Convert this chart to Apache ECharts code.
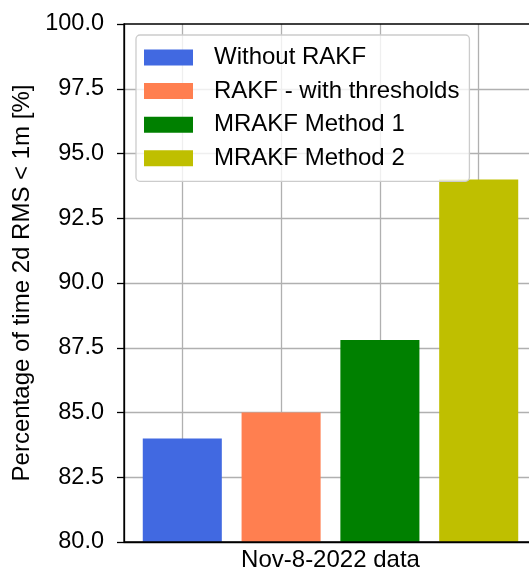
<!DOCTYPE html>
<html>
<head>
<meta charset="utf-8">
<script src="https://cdn.jsdelivr.net/npm/echarts@6/dist/echarts.min.js"></script>
<style>
html,body{margin:0;padding:0;background:#fff;}
#chart{width:529px;height:571px;}
</style>
</head>
<body>
<div id="chart"></div>
<script>
// ---- data ----
const seriesNames = ['Without RAKF', 'RAKF - with thresholds', 'MRAKF Method 1', 'MRAKF Method 2'];
const seriesValues = [84.0, 85.0, 87.8, 94.0];
const barPositions = [0, 1, 2, 3];
const groupLabel = 'Nov-8-2022 data';
const yAxisTitle = 'Percentage of time 2d RMS < 1m [%]';
const yMin = 80, yMax = 100, yStep = 2.5;
const xMin = -0.59, xMax = 3.59;
// ---- styles ----
const seriesColors = ['#4169E1', '#FF7F50', '#008000', '#BFBF00'];

const FONT = "'Liberation Sans', Arial, sans-serif";
const FS = 23.5;
const FS2 = 24;
const gridLeft = 124, gridRight = -8, gridTop = 24, gridBottom = 571 - 542;
const unitPx = (529 - gridLeft - gridRight) / (xMax - xMin);
const barW = 0.8 * unitPx;

const chart = echarts.init(document.getElementById('chart'), null, {renderer: 'canvas'});
const series = seriesNames.map((name, i) => ({
  name: name,
  type: 'bar',
  data: [[barPositions[i], seriesValues[i]]],
  barWidth: barW,
  barGap: '-100%',
  itemStyle: {color: seriesColors[i]},
  z: 2
}));

chart.setOption({
  animation: false,
  backgroundColor: '#fff',
  grid: {left: gridLeft, right: gridRight, top: gridTop, bottom: gridBottom,
         containLabel: false, outerBoundsMode: 'none',
         show: true, borderColor: '#000', borderWidth: 1.3, backgroundColor: 'transparent', z: 3},
  legend: {
    orient: 'vertical', left: 136, top: 35,
    icon: 'rect', itemWidth: 49, itemHeight: 16, itemGap: 7.6,
    padding: [9.5, 10, 10, 8],
    backgroundColor: 'rgba(255,255,255,0.8)',
    borderColor: '#cccccc', borderWidth: 1.3, borderRadius: 4,
    textStyle: {fontFamily: FONT, fontSize: FS2, color: '#000', lineHeight: 26, padding: [0, 0, 0, 16]},
    data: seriesNames, z: 10
  },
  xAxis: {
    type: 'value', min: xMin, max: xMax, splitNumber: 4,
    name: groupLabel, nameLocation: 'middle', nameGap: 6,
    nameTextStyle: {fontFamily: FONT, fontSize: FS2, color: '#000', verticalAlign: 'top'},
    axisLine: {show: true, onZero: false, lineStyle: {color: '#000', width: 1.3}},
    axisTick: {show: false},
    axisLabel: {show: false},
    splitLine: {show: true, showMinLine: false, showMaxLine: false, lineStyle: {color: '#b0b0b0', width: 1.3}}
  },
  yAxis: {
    type: 'value', min: yMin, max: yMax, interval: yStep,
    name: yAxisTitle, nameLocation: 'middle', nameGap: 88, nameRotate: 90,
    nameTextStyle: {fontFamily: FONT, fontSize: FS2, color: '#000'},
    axisLine: {show: true, onZero: false, lineStyle: {color: '#000', width: 1.3}},
    axisTick: {show: true, length: 7, lineStyle: {color: '#000', width: 1.3}},
    axisLabel: {fontFamily: FONT, fontSize: FS, color: '#000', margin: 20,
                formatter: v => v.toFixed(1)},
    splitLine: {show: true, showMinLine: false, showMaxLine: false, lineStyle: {color: '#b0b0b0', width: 1.3}}
  },
  series: series
});
</script>
</body>
</html>
